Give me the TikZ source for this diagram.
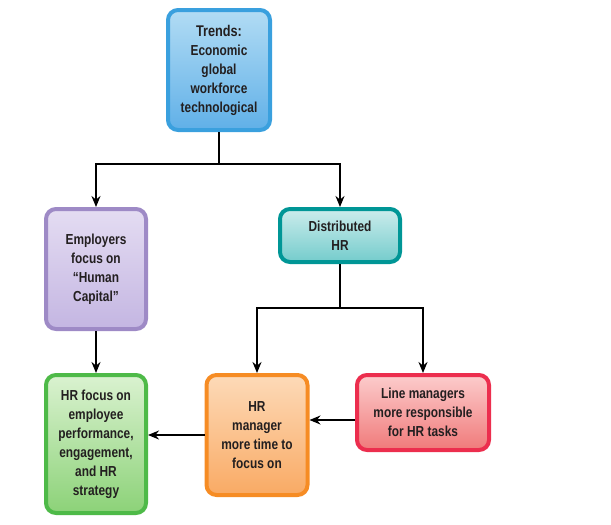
\documentclass[tikz,border=0pt]{standalone}
\usepackage{fontspec}
\usetikzlibrary{arrows.meta}
\newfontfamily\boxfont[FakeStretch=0.82]{Liberation Sans Bold}
\definecolor{trendline}{RGB}{58,160,222}
\definecolor{empline}{RGB}{158,138,198}
\definecolor{distline}{RGB}{0,150,150}
\definecolor{focusline}{RGB}{78,186,72}
\definecolor{mgrline}{RGB}{246,140,36}
\definecolor{lineline}{RGB}{236,46,78}
\definecolor{boxtext}{RGB}{35,31,32}
\tikzset{
  hrbox/.style={draw, line width=4pt, rounded corners=10pt, align=center, text=boxtext,
    font=\boxfont\fontsize{14.5}{19}\selectfont, inner sep=0pt},
  link/.style={black, line width=1.4pt, -{Stealth[length=11pt,width=9pt,inset=3.5pt]}}
}
\begin{document}
\begin{tikzpicture}[x=1pt, y=-1pt]
\useasboundingbox (0,0) rectangle (611,525);
% boxes
\node[hrbox, draw=trendline, top color={rgb,255:red,178;green,220;blue,244}, bottom color={rgb,255:red,96;green,176;blue,232},
  minimum width=102, minimum height=120] (trends) at (219,70)
  {{\fontsize{15.5}{19}\selectfont Trends:}\\Economic\\global\\workforce\\technological};
\node[hrbox, draw=empline, top color={rgb,255:red,228;green,220;blue,242}, bottom color={rgb,255:red,196;green,182;blue,226},
  minimum width=100, minimum height=120] (emp) at (96,269)
  {Employers\\focus on\\“Human\\Capital”};
\node[hrbox, draw=distline, top color={rgb,255:red,204;green,236;blue,236}, bottom color={rgb,255:red,116;green,204;blue,204},
  minimum width=120, minimum height=53] (dist) at (340,235.5)
  {Distributed\\HR};
\node[hrbox, draw=focusline, top color={rgb,255:red,218;green,242;blue,208}, bottom color={rgb,255:red,140;green,210;blue,120},
  minimum width=100, minimum height=138] (focus) at (96,444)
  {HR focus on\\employee\\performance,\\engagement,\\and HR\\strategy};
\node[hrbox, draw=mgrline, top color={rgb,255:red,253;green,218;blue,184}, bottom color={rgb,255:red,249;green,170;blue,100},
  minimum width=101, minimum height=120] (mgr) at (257,435)
  {HR\\manager\\more time to\\focus on};
\node[hrbox, draw=lineline, top color={rgb,255:red,252;green,204;blue,204}, bottom color={rgb,255:red,240;green,122;blue,122},
  minimum width=132, minimum height=75] (line) at (423,412.5)
  {Line managers\\more responsible\\for HR tasks};
% connectors
\draw[link] (trends.south) -- ++(0,32) -| (emp.north);
\draw[link] (trends.south) -- ++(0,32) -| (dist.north);
\draw[link] (emp.south) -- (focus.north);
\draw[link] (dist.south) -- ++(0,44) -| (mgr.north);
\draw[link] (dist.south) -- ++(0,44) -| (line.north);
\draw[link] ([yshift=-7.5pt]line.west) -- ([yshift=-7.5pt]line.west -| mgr.east);
\draw[link] (mgr.west) -- (mgr.west -| focus.east);
\end{tikzpicture}
\end{document}
